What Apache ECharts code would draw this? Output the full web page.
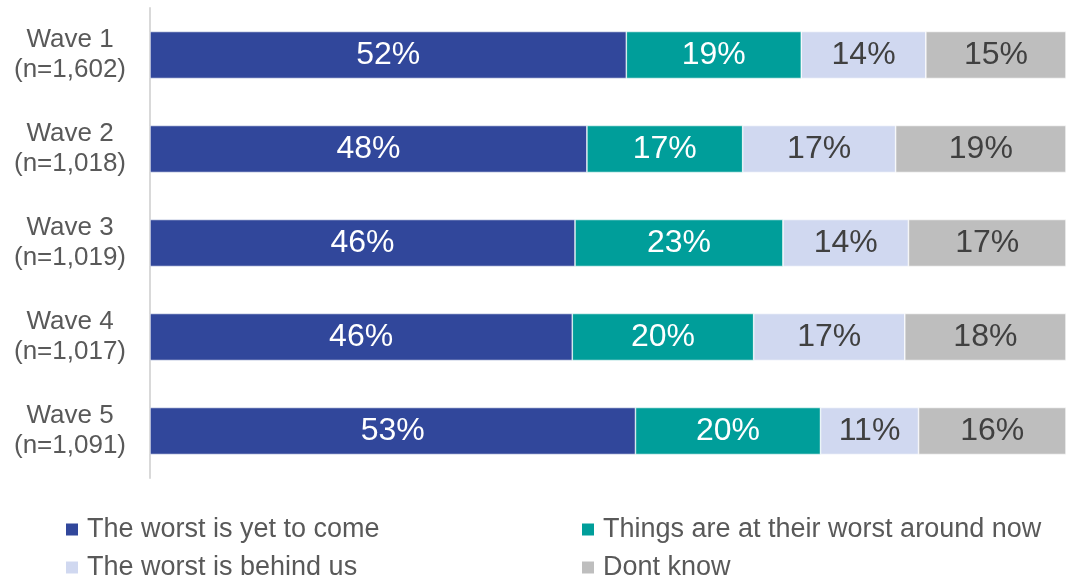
<!DOCTYPE html>
<html>
<head>
<meta charset="utf-8">
<script src="https://cdn.jsdelivr.net/npm/echarts@6/dist/echarts.min.js"></script>
<style>
html,body{margin:0;padding:0;background:#fff;}
#chart{width:1066px;height:579px;}
</style>
</head>
<body>
<div id="chart"></div>
<script>
const categories = ["Wave 1\n(n=1,602)", "Wave 2\n(n=1,018)", "Wave 3\n(n=1,019)", "Wave 4\n(n=1,017)", "Wave 5\n(n=1,091)"];
const seriesNames = ["The worst is yet to come", "Things are at their worst around now", "The worst is behind us", "Dont know"];
const worstToCome = [52.0, 47.7, 46.4, 46.1, 53.0];
const worstNow = [19.1, 17.0, 22.7, 19.8, 20.2];
const worstBehind = [13.6, 16.7, 13.7, 16.5, 10.7];
const dontKnow = [15.3, 18.6, 17.2, 17.6, 16.1];

const colors = ["#31479B", "#009E9A", "#D0D8F0", "#BEBEBE"];
const labelColors = ["#FFFFFF", "#FFFFFF", "#404040", "#404040"];
const values = [worstToCome, worstNow, worstBehind, dontKnow];
const FONT = "'Liberation Sans', Arial, sans-serif";

const chart = echarts.init(document.getElementById('chart'), null, {renderer: 'canvas'});

const legendPos = [
  {left: 64, top: 515},
  {left: 580, top: 515},
  {left: 64, top: 553},
  {left: 580, top: 553}
];

const option = {
  animation: false,
  backgroundColor: '#fff',
  grid: {left: 150, right: 0, top: 8, bottom: 101, containLabel: false},
  legend: seriesNames.map((n, i) => ({
    data: [n],
    left: legendPos[i].left,
    top: legendPos[i].top,
    padding: 0,
    itemWidth: 14,
    itemHeight: 14,
    icon: 'rect',
    textStyle: {fontFamily: FONT, fontSize: 27, color: '#595959', lineHeight: 29, padding: [0, 0, 0, 3]}
  })),
  xAxis: {
    type: 'value', min: 0, max: 100, show: false
  },
  yAxis: {
    type: 'category',
    data: categories,
    inverse: true,
    axisLine: {show: true, lineStyle: {color: '#D9D9D9', width: 2}},
    axisTick: {show: false},
    axisLabel: {
      fontFamily: FONT, fontSize: 26, color: '#595959', lineHeight: 30,
      align: 'center', margin: 80, padding: [4, 0, 0, 0]
    }
  },
  series: seriesNames.map((n, i) => ({
    name: n,
    type: 'bar',
    stack: 'total',
    barCategoryGap: '50%',
    data: values[i],
    itemStyle: {color: colors[i], borderColor: '#ffffff', borderWidth: 0.6},
    label: {
      show: true,
      position: 'inside',
      fontFamily: FONT,
      fontSize: 32,
      color: labelColors[i],
      formatter: p => Math.round(p.value) + '%'
    }
  }))
};
chart.setOption(option);
</script>
</body>
</html>
